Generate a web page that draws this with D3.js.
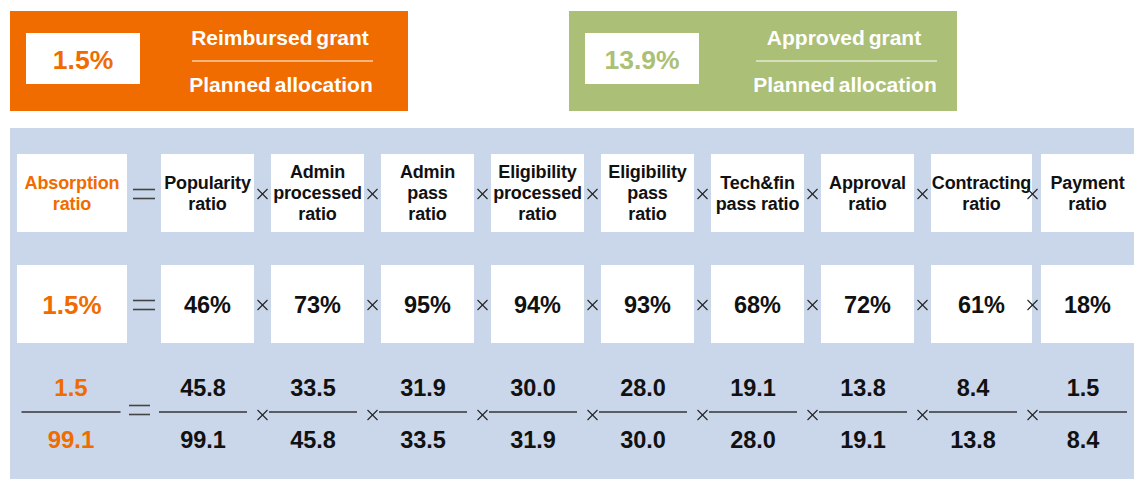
<!DOCTYPE html>
<html>
<head>
<meta charset="utf-8">
<script src="https://cdn.jsdelivr.net/npm/d3@7"></script>
<style>
body{margin:0;background:#fff;}
svg{display:block;font-family:"Liberation Sans",Arial,sans-serif;font-weight:bold;}
</style>
</head>
<body>
<div id="chart"><svg class="diagram"></svg></div>
<script>

// header boxes
var headlineValues = ["1.5%", "13.9%"];
var headlineTop = ["Reimbursed grant", "Approved grant"];
var headlineBottom = ["Planned allocation", "Planned allocation"];

// left hand side of the equation
var absorptionLabel = ["Absorption", "ratio"];
var absorptionValue = "1.5%";
var absorptionNum = "1.5";
var absorptionDen = "99.1";

// the chain of ratios
var ratioLabels = [
    ["Popularity", "ratio"],
    ["Admin", "processed", "ratio"],
    ["Admin", "pass", "ratio"],
    ["Eligibility", "processed", "ratio"],
    ["Eligibility", "pass", "ratio"],
    ["Tech&fin", "pass ratio"],
    ["Approval", "ratio"],
    ["Contracting", "ratio"],
    ["Payment", "ratio"]
];
var ratioValues = ["46%", "73%", "95%", "94%", "93%", "68%", "72%", "61%", "18%"];
var numerators = ["45.8", "33.5", "31.9", "30.0", "28.0", "19.1", "13.8", "8.4", "1.5"];
var denominators = ["99.1", "45.8", "33.5", "31.9", "30.0", "28.0", "19.1", "13.8", "8.4"];

/***********************************************************************************************************/

var W = 1134, H = 479;
var orange = "#F06B00", green = "#ABBF77", blue = "#CAD7EA", ink = "#111";

var svg = d3.select("#chart svg").attr("width", W).attr("height", H);

var x = d3.scaleLinear().domain([0, ratioLabels.length]).range([161, 161 + 110 * ratioLabels.length]);
var boxW = 93;

var row1 = {top: 154, height: 78},
    row2 = {top: 265, height: 78},
    row3 = {line: 412, num: 396, den: 448};

function drawHeadline(i, left, width, colour){
    var g = svg.append("g").attr("transform", "translate(" + left + ",11)");
    g.append("rect").attr("width", width).attr("height", 100).attr("fill", colour);
    g.append("rect").attr("x", 16).attr("y", 22).attr("width", 114).attr("height", 51).attr("fill", "#fff");
    g.append("text").attr("x", 73).attr("y", 58).attr("text-anchor", "middle")
        .style("font-size", "26.5px").attr("fill", colour)
        .text(headlineValues[i]);
    var cx = i === 0 ? 271 : 276;
    g.append("text").attr("x", cx - 1).attr("y", 34).attr("text-anchor", "middle")
        .style("font-size", "21px").style("word-spacing", "-2px")
        .attr("fill", "#fff").text(headlineTop[i]);
    g.append("line").attr("x1", cx - 89).attr("x2", cx + 92).attr("y1", 50).attr("y2", 50)
        .attr("stroke", "#fff").attr("stroke-width", 1.2);
    g.append("text").attr("x", cx).attr("y", 81).attr("text-anchor", "middle")
        .style("font-size", "21px").style("word-spacing", "-2px")
        .attr("fill", "#fff").text(headlineBottom[i]);
}

drawHeadline(0, 10, 398, orange);
drawHeadline(1, 569, 388, green);

// blue panel
svg.append("rect").attr("x", 10).attr("y", 128).attr("width", W - 10).attr("height", H - 128).attr("fill", blue);

function times(cx, cy){
    var s = 5;
    var g = svg.append("g").attr("stroke", "#222").attr("stroke-width", 1.1);
    g.append("line").attr("x1", cx - s).attr("y1", cy - s).attr("x2", cx + s).attr("y2", cy + s);
    g.append("line").attr("x1", cx - s).attr("y1", cy + s).attr("x2", cx + s).attr("y2", cy - s);
}

function equals(x0, x1, cy){
    var g = svg.append("g").attr("stroke", "#444").attr("stroke-width", 1.6);
    [-4.5, 4.5].forEach(function(d){
        g.append("line").attr("x1", x0).attr("x2", x1).attr("y1", cy + d).attr("y2", cy + d);
    });
}

// row 1 : labels
var labelSize = 18, lineGap = 21;
var cy1 = row1.top + row1.height / 2;

svg.append("rect").attr("x", 17).attr("y", row1.top).attr("width", 110).attr("height", row1.height).attr("fill", "#fff");
var absText = svg.append("text").attr("text-anchor", "middle").attr("fill", orange)
    .style("font-size", labelSize + "px").style("letter-spacing", "-0.1px");
absorptionLabel.forEach(function(t, k){
    absText.append("tspan").attr("x", 72).attr("y", cy1 + 6 + (k - (absorptionLabel.length - 1) / 2) * lineGap).text(t);
});
equals(133, 155, cy1 + 1);

var boxes1 = svg.append("g").selectAll("g").data(ratioLabels).join("g")
    .attr("transform", function(d, i){ return "translate(" + x(i) + "," + row1.top + ")"; });
var rects1 = boxes1.append("rect").attr("height", row1.height).attr("fill", "#fff");
var labels1 = boxes1.append("text").attr("text-anchor", "middle").attr("fill", ink)
    .style("font-size", labelSize + "px").style("letter-spacing", "-0.15px");
labels1.selectAll("tspan").data(function(d){ return d.map(function(t, k){ return {t: t, k: k, n: d.length}; }); })
    .join("tspan")
    .attr("y", function(d){ return row1.height / 2 + 6 + (d.k - (d.n - 1) / 2) * lineGap; })
    .text(function(d){ return d.t; });

// widen a box when its label does not fit
var widths = [];
labels1.each(function(d, i){
    var longest = 0;
    d3.select(this).selectAll("tspan").each(function(){
        longest = Math.max(longest, this.getComputedTextLength());
    });
    widths[i] = Math.max(boxW, Math.ceil(longest) + 1);
});
rects1.attr("width", function(d, i){ return widths[i]; });
labels1.selectAll("tspan").attr("x", function(){
    var i = ratioLabels.indexOf(d3.select(this.parentNode).datum());
    return widths[i] / 2;
});

// row 2 : percentages
var cy2 = row2.top + row2.height / 2;
svg.append("rect").attr("x", 17).attr("y", row2.top).attr("width", 110).attr("height", row2.height).attr("fill", "#fff");
svg.append("text").attr("x", 72).attr("y", cy2 + 10).attr("text-anchor", "middle").attr("fill", orange)
    .style("font-size", "26px").text(absorptionValue);
equals(133, 155, cy2 + 1);

var boxes2 = svg.append("g").selectAll("g").data(ratioValues).join("g")
    .attr("transform", function(d, i){ return "translate(" + x(i) + "," + row2.top + ")"; });
boxes2.append("rect").attr("height", row2.height).attr("fill", "#fff")
    .attr("width", function(d, i){ return widths[i]; });
boxes2.append("text").attr("x", function(d, i){ return widths[i] / 2; }).attr("y", row2.height / 2 + 9)
    .attr("text-anchor", "middle").attr("fill", ink)
    .style("font-size", "23.5px")
    .text(function(d){ return d; });

// row 3 : fractions
function fraction(cx, halfW, num, den, colour, size){
    svg.append("line").attr("x1", cx - halfW).attr("x2", cx + halfW).attr("y1", row3.line).attr("y2", row3.line)
        .attr("stroke", "#333").attr("stroke-width", 1.6);
    svg.append("text").attr("x", cx).attr("y", row3.num).attr("text-anchor", "middle").attr("fill", colour)
        .style("font-size", size + "px").text(num);
    svg.append("text").attr("x", cx).attr("y", row3.den).attr("text-anchor", "middle").attr("fill", colour)
        .style("font-size", size + "px").text(den);
}

fraction(71, 49.5, absorptionNum, absorptionDen, orange, 24);
equals(129, 150, row3.line - 2);

numerators.forEach(function(n, i){
    fraction(x(i) + 42, 44, n, denominators[i], ink, 23.5);
});

// multiplication signs between boxes
d3.range(1, ratioLabels.length).forEach(function(i){
    var cx = x(i) - 8.5;
    times(cx, cy1 + 1);
    times(cx, cy2 + 1);
    times(cx, row3.line + 3);
});

</script>
</body>
</html>
